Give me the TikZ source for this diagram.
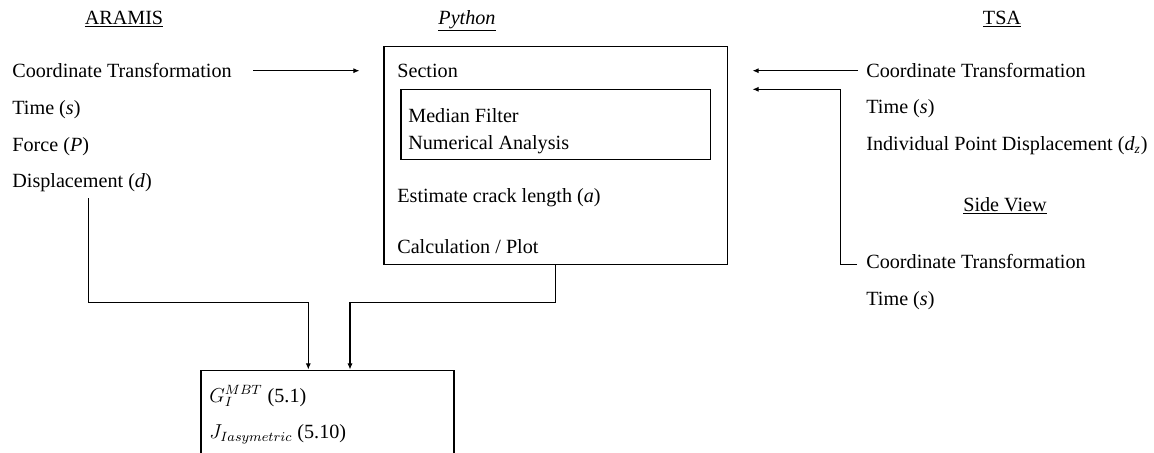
\documentclass[tikz,border=0pt]{standalone}
\usepackage{fontspec}
\setmainfont{Liberation Serif}
\usetikzlibrary{arrows.meta,calc,fit}
\tikzset{
  txt/.style={inner sep=0pt, anchor=base west, font=\fontsize{12}{14}\selectfont},
  ttl/.style={inner sep=0pt, anchor=base, font=\fontsize{12}{14}\selectfont},
  box/.style={draw, line width=0.6pt, inner sep=0pt},
  conn/.style={line width=0.6pt},
  arr/.style={line width=0.6pt, -{Latex[length=3.6pt,width=3pt]}}
}
\begin{document}
\begin{tikzpicture}[x=0.595pt,y=-0.595pt]
\useasboundingbox (0,0) rectangle (1154,452);
\clip (0,0) rectangle (1154,452);
\fill[white] (0,0) rectangle (1154,452);
% titles
\node[ttl] (taramis) at (124,24) {\underline{ARAMIS}};
\node[ttl] (tpython) at (467,24) {\underline{\textit{Python}}};
\node[ttl] (ttsa) at (1002,24) {\underline{TSA}};
\node[ttl] (tside) at (1005,211) {\underline{Side View}};
% ARAMIS column
\node[txt] (act) at (12,77) {Coordinate Transformation};
\node[txt] (atime) at (12,114) {Time (\textit{s})};
\node[txt] (aforce) at (12,151) {Force (\textit{P})};
\node[txt] (adisp) at (12,187) {Displacement (\textit{d})};
% Python box
\node[box, fit={(384,46) (727,264)}] (py) {};
\node[box, fit={(401,89) (710,159)}] (inner) {};
\node[txt] (psec) at (397,77) {Section};
\node[txt] (pmed) at (408,122) {Median Filter};
\node[txt] (pnum) at (408,149) {Numerical Analysis};
\node[txt] (pest) at (397,202) {Estimate crack length (\textit{a})};
\node[txt] (pcalc) at (397,253) {Calculation / Plot};
% TSA column
\node[txt] (tct) at (866,77) {Coordinate Transformation};
\node[txt] (ttime) at (866,113) {Time (\textit{s})};
\node[txt] (tind) at (866,150) {Individual Point Displacement (\textit{d}\textsubscript{\textit{z}})};
\node[txt] (sct) at (866,268) {Coordinate Transformation};
\node[txt] (stime) at (866,305) {Time (\textit{s})};
% bottom box
\node[box, fit={(201,370) (454,480)}] (bx) {};
\node[txt] (g1) at (209,402) {$G_I^{MBT}$ (5.1)};
\node[txt] (j1) at (209,438) {$J_{Iasymetric}$ (5.10)};
% connectors
\coordinate (a1s) at ($(act.base east)+(21,-6.3)$);
\draw[arr] (a1s) -- ([xshift=-14.3pt]a1s -| py.west);
\coordinate (t1s) at ($(tct.base west)+(-8,-6.3)$);
\draw[arr] (t1s) -- ([xshift=14.9pt]t1s -| py.east);
\coordinate (t2s) at ($(sct.base west)+(-9,-4)$);
\coordinate (t2c) at (840.7,89.3);
\draw[arr] (t2s) -| (t2c) -- ([xshift=14.9pt]t2c -| py.east);
\coordinate (lstart) at ($(adisp.base west)+(76.3,11)$);
\coordinate (lx) at (308.3,302.7);
\draw[arr] (lstart) |- (lx) -- (lx |- bx.north);
\coordinate (rx) at (350,302.7);
\draw[arr] (py.south) |- (rx) -- (rx |- bx.north);
\end{tikzpicture}
\end{document}
